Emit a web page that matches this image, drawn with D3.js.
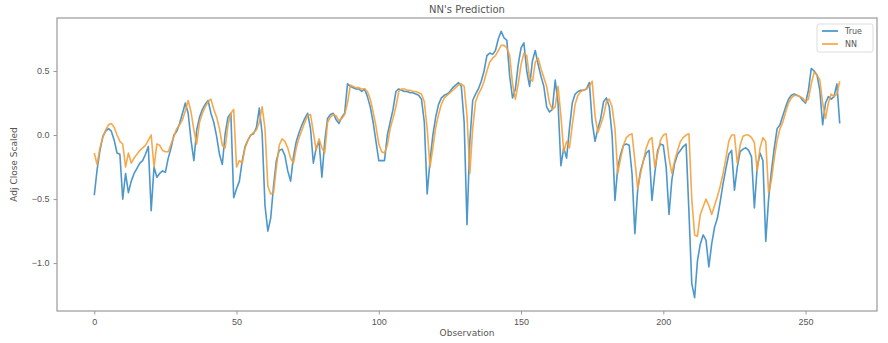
<!DOCTYPE html>
<html>
<head>
<meta charset="utf-8">
<script src="https://cdn.jsdelivr.net/npm/d3@7"></script>
<style>
  body { margin: 0; background: #fff; }
  svg { display: block; font-family: "DejaVu Sans", sans-serif; }
</style>
</head>
<body>
<div id="chart"></div>
<script>
// values, one per observation (0..262)
const trueValues = [
  -0.47, -0.27, -0.12, -0.01, 0.03, 0.05, 0.03, -0.04, -0.14, -0.15,
  -0.50, -0.30, -0.45, -0.36, -0.30, -0.26, -0.22, -0.20, -0.15, -0.09,
  -0.59, -0.25, -0.33, -0.30, -0.28, -0.29, -0.18, -0.10, 0.00, 0.03,
  0.09, 0.17, 0.25, 0.17, -0.04, -0.20, 0.04, 0.14, 0.20, 0.24,
  0.27, 0.17, 0.10, -0.01, -0.15, -0.23, 0.01, 0.14, 0.17, -0.49,
  -0.42, -0.36, -0.20, -0.09, -0.04, 0.00, 0.01, 0.06, 0.21, 0.01,
  -0.55, -0.75, -0.65, -0.40, -0.20, -0.12, -0.11, -0.16, -0.28, -0.36,
  -0.17, -0.05, 0.02, 0.08, 0.13, 0.17, 0.05, -0.22, -0.10, -0.05,
  -0.33, -0.05, 0.13, 0.16, 0.17, 0.12, 0.09, 0.14, 0.17, 0.40,
  0.38, 0.37, 0.36, 0.36, 0.34, 0.36, 0.30, 0.22, 0.10, -0.05,
  -0.20, -0.20, -0.20, 0.00, 0.10, 0.20, 0.34, 0.36, 0.35, 0.34,
  0.34, 0.33, 0.33, 0.32, 0.31, 0.28, 0.10, -0.46, -0.20, 0.00,
  0.14, 0.24, 0.29, 0.31, 0.32, 0.34, 0.37, 0.39, 0.41, 0.38,
  0.10, -0.70, -0.05, 0.27, 0.32, 0.36, 0.42, 0.50, 0.62, 0.64,
  0.63, 0.66, 0.75, 0.81, 0.76, 0.74, 0.46, 0.29, 0.36, 0.55,
  0.68, 0.72, 0.50, 0.38, 0.58, 0.66, 0.55, 0.46, 0.38, 0.22,
  0.18, 0.20, 0.43, 0.25, -0.24, -0.10, -0.18, 0.05, 0.25, 0.32,
  0.34, 0.35, 0.35, 0.36, 0.41, 0.10, -0.05, 0.05, 0.13, 0.26,
  0.29, 0.22, 0.00, -0.51, -0.25, -0.15, -0.08, -0.07, -0.08, -0.30,
  -0.77, -0.42, -0.28, -0.20, -0.14, -0.12, -0.51, -0.30, -0.12, -0.07,
  -0.08, -0.25, -0.62, -0.35, -0.22, -0.15, -0.12, -0.09, -0.07, -0.60,
  -1.16, -1.27, -0.98, -0.85, -0.78, -0.82, -1.03, -0.85, -0.72, -0.65,
  -0.52, -0.38, -0.26, -0.15, -0.12, -0.43, -0.25, -0.13, -0.11, -0.10,
  -0.12, -0.17, -0.57, -0.25, -0.14, -0.20, -0.83, -0.50, -0.28, -0.10,
  0.05, 0.08, 0.15, 0.22, 0.28, 0.31, 0.32, 0.31, 0.30, 0.27,
  0.25, 0.35, 0.52, 0.50, 0.47, 0.35, 0.08, 0.25, 0.30, 0.28,
  0.30, 0.40, 0.09
];
const nnValues = [
  -0.14, -0.23, -0.10, -0.02, 0.04, 0.08, 0.09, 0.06, 0.00, -0.05,
  -0.07, -0.25, -0.14, -0.22, -0.18, -0.15, -0.12, -0.10, -0.08, -0.04,
  0.00, -0.25, -0.07, -0.08, -0.12, -0.13, -0.13, -0.07, -0.01, 0.05,
  0.08, 0.12, 0.19, 0.27, 0.18, 0.04, -0.07, 0.10, 0.17, 0.22,
  0.26, 0.28, 0.20, 0.14, 0.05, -0.08, -0.10, 0.08, 0.17, 0.20,
  -0.25, -0.20, -0.22, -0.10, -0.04, 0.00, 0.02, 0.04, 0.10, 0.22,
  0.05, -0.40, -0.46, -0.45, -0.25, -0.08, -0.03, -0.05, -0.10, -0.18,
  -0.22, -0.10, -0.02, 0.04, 0.10, 0.15, 0.16, 0.02, -0.12, -0.03,
  -0.10, -0.14, 0.10, 0.14, 0.16, 0.15, 0.11, 0.13, 0.16, 0.25,
  0.39, 0.38, 0.37, 0.37, 0.36, 0.36, 0.34, 0.28, 0.18, 0.07,
  -0.07, -0.13, -0.14, -0.08, 0.05, 0.13, 0.22, 0.34, 0.36, 0.36,
  0.35, 0.35, 0.34, 0.34, 0.33, 0.32, 0.26, 0.05, -0.25, -0.10,
  0.06, 0.16, 0.24, 0.29, 0.31, 0.33, 0.35, 0.37, 0.39, 0.40,
  0.38, 0.15, -0.30, 0.05, 0.26, 0.32, 0.36, 0.42, 0.50, 0.57,
  0.60, 0.62, 0.66, 0.70, 0.70, 0.68, 0.62, 0.40, 0.28, 0.40,
  0.55, 0.64, 0.62, 0.44, 0.42, 0.57, 0.60, 0.52, 0.45, 0.38,
  0.25, 0.20, 0.22, 0.38, 0.15, -0.13, -0.05, -0.10, 0.08, 0.24,
  0.31, 0.34, 0.35, 0.36, 0.38, 0.42, 0.15, 0.02, 0.08, 0.15,
  0.26, 0.28, 0.22, 0.05, -0.30, -0.18, -0.08, -0.02, 0.00, 0.01,
  -0.20, -0.42, -0.30, -0.20, -0.10, -0.04, -0.02, -0.25, -0.15, -0.04,
  0.00, 0.01, -0.18, -0.30, -0.20, -0.12, -0.05, -0.02, 0.00, 0.01,
  -0.50, -0.78, -0.79, -0.62, -0.56, -0.50, -0.55, -0.62, -0.55, -0.48,
  -0.40, -0.30, -0.18, -0.05, 0.00, 0.00, -0.22, -0.08, -0.01, 0.00,
  0.00, -0.02, -0.06, -0.28, -0.10, -0.02, -0.05, -0.45, -0.35, -0.18,
  -0.04, 0.05, 0.10, 0.18, 0.25, 0.29, 0.31, 0.31, 0.30, 0.29,
  0.26, 0.28, 0.40, 0.49, 0.47, 0.43, 0.25, 0.13, 0.25, 0.32,
  0.30, 0.32, 0.42
];
const xTicks = [0, 50, 100, 150, 200, 250];
const yTicks = [-1.0, -0.5, 0.0, 0.5];
const seriesNames = ["True", "NN"];
const seriesColors = ["#3a8cc4", "#f5a03a"];

const width = 888, height = 343;
const margin = { top: 18, right: 11, bottom: 32, left: 57 };

const svg = d3.select("#chart").append("svg")
  .attr("width", width)
  .attr("height", height);

const n = trueValues.length;
const pad = (n - 1) * 0.05;
const x = d3.scaleLinear()
  .domain([-pad, n - 1 + pad])
  .range([margin.left, width - margin.right]);

const all = trueValues.concat(nnValues);
const lo = d3.min(all), hi = d3.max(all);
const ypad = (hi - lo) * 0.05;
const y = d3.scaleLinear()
  .domain([lo - ypad, hi + ypad])
  .range([height - margin.bottom, margin.top]);

const textColor = "#555";
const spineColor = "#9a9a9a";

// axes
const xAxis = svg.append("g")
  .attr("transform", `translate(0,${height - margin.bottom})`)
  .call(d3.axisBottom(x).tickValues(xTicks).tickFormat(d3.format("d")).tickSize(3.5).tickPadding(4));
const yAxis = svg.append("g")
  .attr("transform", `translate(${margin.left},0)`)
  .call(d3.axisLeft(y).tickValues(yTicks).tickFormat((d) => d3.format(".1f")(d).replace("-", "\u2212")).tickSize(3.5).tickPadding(4));
[xAxis, yAxis].forEach((g) => {
  g.select(".domain").remove();
  g.selectAll("line").attr("stroke", spineColor);
  g.selectAll("text").attr("fill", textColor).style("font-size", "9px");
});

// frame
svg.append("rect")
  .attr("x", margin.left)
  .attr("y", margin.top)
  .attr("width", width - margin.left - margin.right)
  .attr("height", height - margin.top - margin.bottom)
  .attr("fill", "none")
  .attr("stroke", spineColor)
  .attr("stroke-width", 1.2);

const line = d3.line()
  .x((d, i) => x(i))
  .y((d) => y(d));

[trueValues, nnValues].forEach((vals, k) => {
  svg.append("path")
    .datum(vals)
    .attr("fill", "none")
    .attr("stroke", seriesColors[k])
    .attr("stroke-width", 1.6)
    .attr("stroke-linejoin", "round")
    .attr("opacity", 0.9)
    .attr("d", line);
});

// title and labels
svg.append("text")
  .attr("x", (margin.left + width - margin.right) / 2)
  .attr("y", 13)
  .attr("text-anchor", "middle")
  .attr("fill", textColor)
  .style("font-size", "10px")
  .text("NN's Prediction");
svg.append("text")
  .attr("x", (margin.left + width - margin.right) / 2)
  .attr("y", 336)
  .attr("text-anchor", "middle")
  .attr("fill", textColor)
  .style("font-size", "9px")
  .text("Observation");
svg.append("text")
  .attr("transform", `translate(17,${(margin.top + height - margin.bottom) / 2}) rotate(-90)`)
  .attr("text-anchor", "middle")
  .attr("fill", textColor)
  .style("font-size", "9px")
  .text("Adj Close Scaled");

// legend
const legend = svg.append("g").attr("transform", `translate(${width - margin.right - 60},${margin.top + 6})`);
legend.append("rect")
  .attr("width", 56).attr("height", 28).attr("rx", 2)
  .attr("fill", "#fff").attr("stroke", "#ddd");
seriesNames.forEach((name, k) => {
  const ly = 7 + k * 13;
  legend.append("line")
    .attr("x1", 5).attr("x2", 21).attr("y1", ly).attr("y2", ly)
    .attr("stroke", seriesColors[k]).attr("stroke-width", 1.6);
  legend.append("text")
    .attr("x", 28).attr("y", ly + 3)
    .attr("fill", textColor)
    .style("font-size", "8px")
    .text(name);
});
</script>
</body>
</html>
